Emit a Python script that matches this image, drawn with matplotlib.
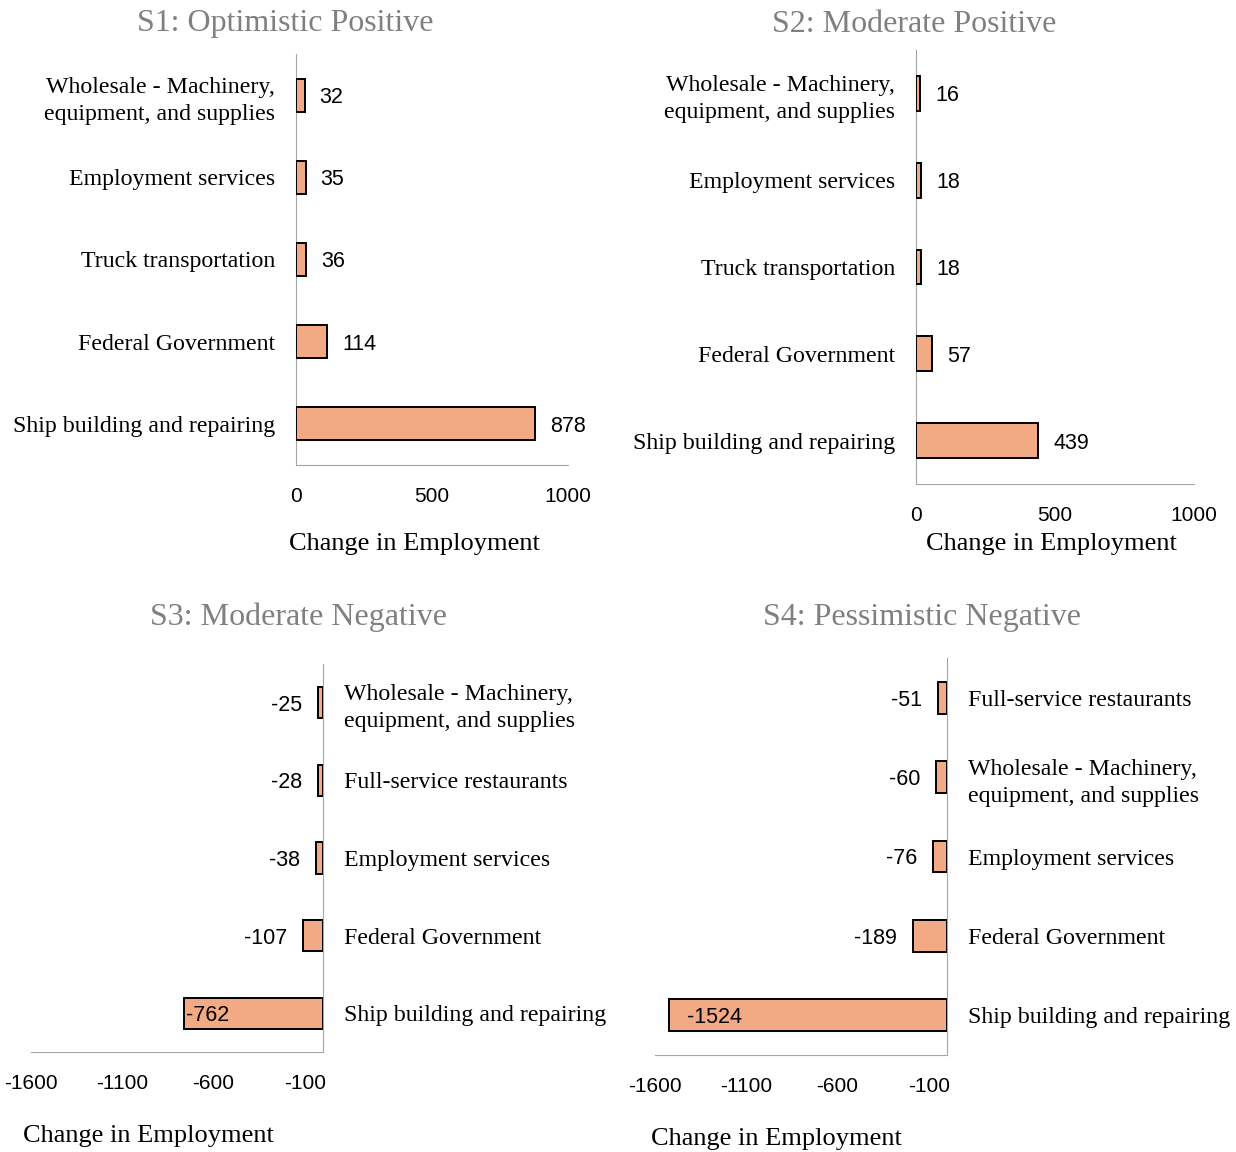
import matplotlib.pyplot as plt

W, H = 1236, 1152
DPI = 100

wholesale = "Wholesale - Machinery,\nequipment, and supplies"

s1_cats = [wholesale, "Employment services", "Truck transportation",
           "Federal Government", "Ship building and repairing"]
s1_vals = [32, 35, 36, 114, 878]

s2_cats = [wholesale, "Employment services", "Truck transportation",
           "Federal Government", "Ship building and repairing"]
s2_vals = [16, 18, 18, 57, 439]

s3_cats = [wholesale, "Full-service restaurants", "Employment services",
           "Federal Government", "Ship building and repairing"]
s3_vals = [-25, -28, -38, -107, -762]

s4_cats = ["Full-service restaurants", wholesale, "Employment services",
           "Federal Government", "Ship building and repairing"]
s4_vals = [-51, -60, -76, -189, -1524]

pos_ticks = [0, 500, 1000]
neg_ticks = [-1600, -1100, -600, -100]

bar_color = "#F2AA84"
axis_gray = "#A6A6A6"
title_gray = "#808080"
serif = ["Liberation Serif", "DejaVu Serif"]
sans = ["Liberation Sans", "DejaVu Sans"]

fig = plt.figure(figsize=(W / DPI, H / DPI), dpi=DPI)


def rect(l, t, r, b):
    return [l / W, 1 - b / H, (r - l) / W, (b - t) / H]


def panel(box, cats, vals, xlim, ticks, negative, title, title_xy, xlabel_xy, inside_off=None):
    ax = fig.add_axes(rect(*box))
    y = list(range(len(cats)))[::-1]
    ax.barh(y, vals, height=0.4, color=bar_color, edgecolor="black", linewidth=1.4, zorder=3)
    ax.set_xlim(*xlim)
    ax.set_ylim(-0.5, len(cats) - 0.5)
    ax.set_xticks(ticks)
    ax.set_xticklabels([str(t) for t in ticks], fontsize=15, family=sans)
    ax.set_yticks(y)
    for s in ax.spines.values():
        s.set_visible(False)
    ax.spines["bottom"].set_visible(True)
    ax.spines["bottom"].set_color(axis_gray)
    side = "right" if negative else "left"
    ax.spines[side].set_visible(True)
    ax.spines[side].set_color(axis_gray)
    if negative:
        ax.yaxis.tick_right()
    ax.set_yticklabels(cats, fontsize=17.2, family=serif, linespacing=1.38)
    ax.tick_params(axis="y", length=0, pad=15)
    ax.tick_params(axis="x", length=0, pad=16)

    # value labels just past each bar end; the longest negative bar gets its label inside
    big = min(vals) if negative else None
    for yi, v in zip(y, vals):
        if negative and v == big:
            ax.annotate(str(v), (v, yi), xytext=(inside_off, 0), textcoords="offset pixels",
                        ha="left", va="center_baseline", fontsize=15.5, family=sans, zorder=4)
        elif negative:
            ax.annotate(str(v), (v, yi), xytext=(-16, 0), textcoords="offset pixels",
                        ha="right", va="center_baseline", fontsize=15.5, family=sans)
        else:
            ax.annotate(str(v), (v, yi), xytext=(15, 0), textcoords="offset pixels",
                        ha="left", va="center_baseline", fontsize=15.5, family=sans)

    fig.text(title_xy[0] / W, 1 - title_xy[1] / H, title, ha="center", va="center",
             fontsize=23, family=serif, color=title_gray)
    fig.text(xlabel_xy[0] / W, 1 - xlabel_xy[1] / H, "Change in Employment", ha="center",
             va="center", fontsize=19, family=serif)
    return ax


panel((296, 54, 568, 465), s1_cats, s1_vals, (0, 1000), pos_ticks, False,
      "S1: Optimistic Positive", (285, 23), (414, 544))
panel((916, 50, 1194, 484), s2_cats, s2_vals, (0, 1000), pos_ticks, False,
      "S2: Moderate Positive", (914, 25), (1051, 544))
panel((31, 664, 323, 1052), s3_cats, s3_vals, (-1600, 0), neg_ticks, True,
      "S3: Moderate Negative", (299, 617), (148, 1136), inside_off=2)
panel((655, 658, 947, 1055), s4_cats, s4_vals, (-1600, 0), neg_ticks, True,
      "S4: Pessimistic Negative", (922, 617), (776, 1139), inside_off=18)

fig.savefig("out.png", dpi=DPI)
